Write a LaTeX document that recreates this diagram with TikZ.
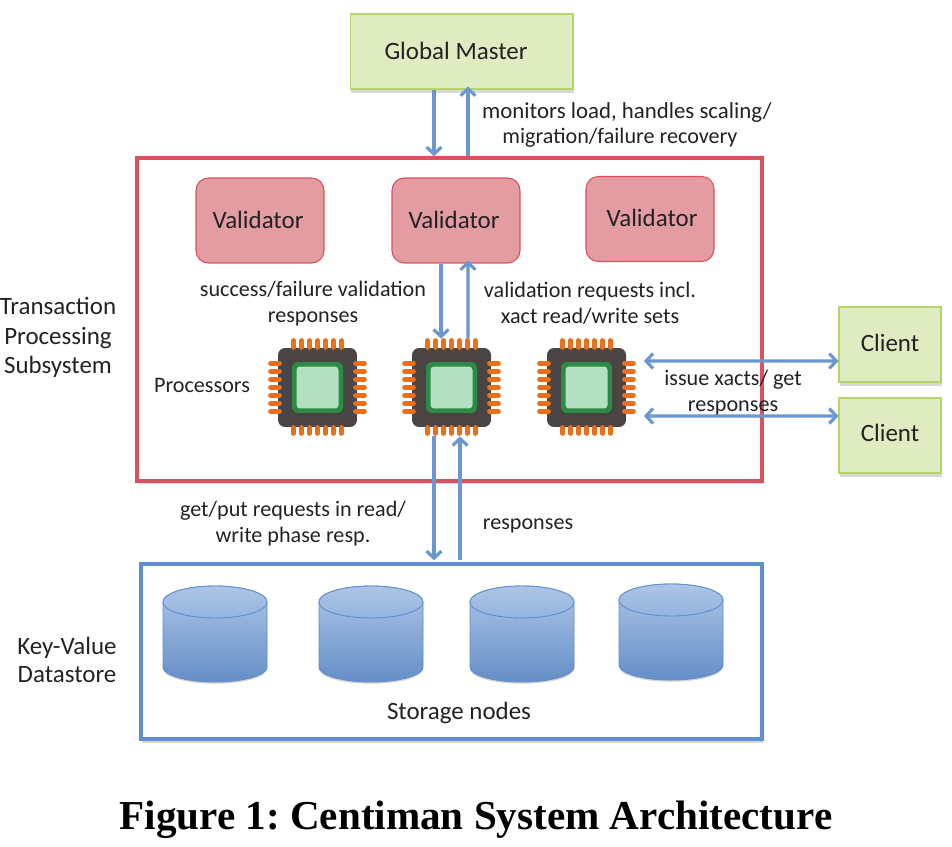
\documentclass[tikz,border=0pt]{standalone}
\usepackage{fontspec}
\setmainfont{Carlito}
\newfontfamily\capfont{Liberation Serif}
\usetikzlibrary{arrows.meta,calc,shadows}
\definecolor{boxgreen}{HTML}{DFEBC0}
\definecolor{edgegreen}{HTML}{B5D56A}
\definecolor{boxred}{HTML}{E39CA1}
\definecolor{edgered}{HTML}{D9505F}
\definecolor{linkblue}{HTML}{6A96D2}
\definecolor{edgeblue}{HTML}{5F8FD0}
\definecolor{pinorange}{HTML}{E8701A}
\definecolor{chipgrey}{HTML}{4A4544}
\definecolor{diegreen}{HTML}{2C8C45}
\definecolor{dielight}{HTML}{B4DFC0}
\definecolor{inktext}{HTML}{222222}
\begin{document}
\frenchspacing
\begin{tikzpicture}[
        x=0.02cm, y=-0.02cm,
        softshadow/.style={drop shadow={shadow xshift=0.4pt, shadow yshift=-2pt, opacity=0.22, fill=black!70}},
        green box/.style={rectangle, draw=edgegreen, line width=0.6pt, fill=boxgreen, softshadow, inner sep=0pt, text=inktext},
        master/.style={green box, minimum width=4.46cm, minimum height=1.5cm},
        client/.style={green box, minimum width=2.04cm, minimum height=1.5cm},
        validator/.style={rectangle, rounded corners=7pt, draw=edgered, line width=0.6pt, fill=boxred, inner sep=0pt, minimum width=2.56cm, minimum height=1.7cm},
        subsys/.style={rectangle, draw=edgered, line width=2pt, fill=white, softshadow, inner sep=0pt},
        store/.style={rectangle, draw=edgeblue, line width=2pt, fill=white, softshadow, inner sep=0pt},
        chipbody/.style={rectangle, rounded corners=4pt, fill=chipgrey, inner sep=0pt, minimum size=1.58cm},
        diering/.style={rectangle, rounded corners=3.5pt, fill=diegreen, inner sep=0pt, minimum size=1.02cm},
        diecore/.style={rectangle, rounded corners=2pt, fill=dielight, inner sep=0pt, minimum size=0.84cm},
        chippin/.style={pinorange, line width=2.7pt, line cap=round},
        drum/.style={draw=edgeblue, line width=0.5pt, top color=linkblue!55!white, bottom color=linkblue!95!black, drop shadow={shadow xshift=0pt, shadow yshift=-1pt, opacity=0.25, fill=black!70}},
        drumtop/.style={draw=edgeblue, line width=0.5pt, top color=linkblue!55!white, bottom color=linkblue!72!white},
        link/.style={linkblue, line width=1.8pt, -{Straight Barb[length=4pt,width=8.5pt]}},
        dlink/.style={linkblue, line width=1.8pt, {Straight Barb[length=4pt,width=8.5pt]}-{Straight Barb[length=4pt,width=8.5pt]}},
        label/.style={align=center, inner sep=0pt, text=inktext, font=\fontsize{12.6}{14.7}\selectfont},
        boxtext/.style={inner sep=0pt, text=inktext, font=\fontsize{14.2}{16}\selectfont}
    ]
        \useasboundingbox (0,0) rectangle (952,847);

        % Containers
        \node[subsys, minimum width=12.5cm, minimum height=6.46cm] (txn) at (449.5,319.5) {};
        \node[store, minimum width=12.42cm, minimum height=3.5cm] (kv) at (451.5,651.5) {};

        % Boxes
        \node[master] (gm) at (461.5,51.5) {};
        \node[boxtext] (gmtext) at (456,51) {Global Master};
        \node[validator] (val1) at (260,220.5) {};
        \node[validator] (val2) at (456,220.5) {};
        \node[validator] (val3) at (650,219) {};
        \node[boxtext] (valtext1) at (258,220) {Validator};
        \node[boxtext] (valtext2) at (454,220) {Validator};
        \node[boxtext] (valtext3) at (652,218) {Validator};
        \node[client] (cl1) at (890,344.5) {};
        \node[client] (cl2) at (890,435.5) {};
        \node[boxtext] (cltext1) at (890,343) {Client};
        \node[boxtext] (cltext2) at (890,433) {Client};

        % Processors
        \foreach \n/\cx in {1/317.5, 2/451.5, 3/586.5} {
            \node[chipbody] (proc\n) at (\cx,387.5) {};
            \node[diering] (ring\n) at (\cx,387.5) {};
            \node[diecore] (core\n) at (\cx,387.5) {};
            \foreach \d in {-24,-16,-8,0,8,16,24} {
                \draw[chippin] ($(proc\n.center)+(\d,-47)$) -- ($(proc\n.center)+(\d,-40)$);
                \draw[chippin] ($(proc\n.center)+(\d,40)$) -- ($(proc\n.center)+(\d,46)$);
                \draw[chippin] ($(proc\n.center)+(-47,\d)$) -- ($(proc\n.center)+(-38,\d)$);
                \draw[chippin] ($(proc\n.center)+(38,\d)$) -- ($(proc\n.center)+(47,\d)$);
            }
        }

        % Storage nodes
        \foreach \cx/\cy in {215/602, 371/602, 522/602, 671/600} {
            \path[drum] (\cx-52,\cy) -- (\cx-52,\cy+65) arc (180:0:52 and 15) -- (\cx+52,\cy) arc (360:180:52 and 16) -- cycle;
            \draw[drumtop] (\cx,\cy) ellipse (52 and 16);
        }

        % Arrows
        \draw[link] ($(gm.south)+(-27.5,0)$) -- ($(txn.north)+(-15.5,0)$);
        \draw[link] ($(txn.north)+(18.5,0)$) -- ($(gm.south)+(6.5,-3)$);
        \draw[link] ($(val2.south)+(-15,0)$) -- ($(proc2.north)+(-10.5,-9)$);
        \draw[link] ($(proc2.north)+(16.5,-9)$) -- ($(val2.south)+(12,-3)$);
        \draw[link] ($(proc2.south)+(-17.5,9)$) -- ($(kv.north)+(-17.5,-2)$);
        \draw[link] ($(kv.north)+(8.5,-2)$) -- ($(proc2.south)+(8.5,9)$);
        \draw[dlink] ($(proc3.east)+(17.5,-26.5)$) -- ($(cl1.west)+(0,16.5)$);
        \draw[dlink] ($(proc3.east)+(17.5,28.5)$) -- ($(cl2.west)+(0,-19.5)$);

        % Annotations
        \node[label, font=\fontsize{13}{14.7}\selectfont] (lblmon) at (627,125) {monitors load, handles scaling/\\\fontsize{12.6}{14.7}\selectfont migration/failure recovery\hspace*{8pt}};
        \node[label] (lblsucc) at (313,304) {success/failure validation\\responses};
        \node[label] (lblreq) at (590,303) {validation requests incl.\\xact read/write sets};
        \node[label] (lblproc) at (202,385) {Processors};
        \node[label] (lblissue) at (733,393) {issue xacts/ get\\responses};
        \node[label] (lblget) at (293,524) {get/put requests in read/\\write phase resp.};
        \node[label] (lblresp) at (528,526) {responses};
        \node[boxtext] (lblnodes) at (459,713) {Storage nodes};
        \node[label, font=\fontsize{14.2}{16.7}\selectfont] (lbltxn) at (58,337.5) {Transaction\\Processing\\Subsystem};
        \node[label, font=\fontsize{14.2}{16}\selectfont] (lblkv) at (67,660) {Key-Value\\Datastore};
        \node[inner sep=0pt, font=\capfont\bfseries\fontsize{23.4}{26}\selectfont] (caption) at (476,820) {Figure 1: Centiman System Architecture};
    \end{tikzpicture}
\end{document}
